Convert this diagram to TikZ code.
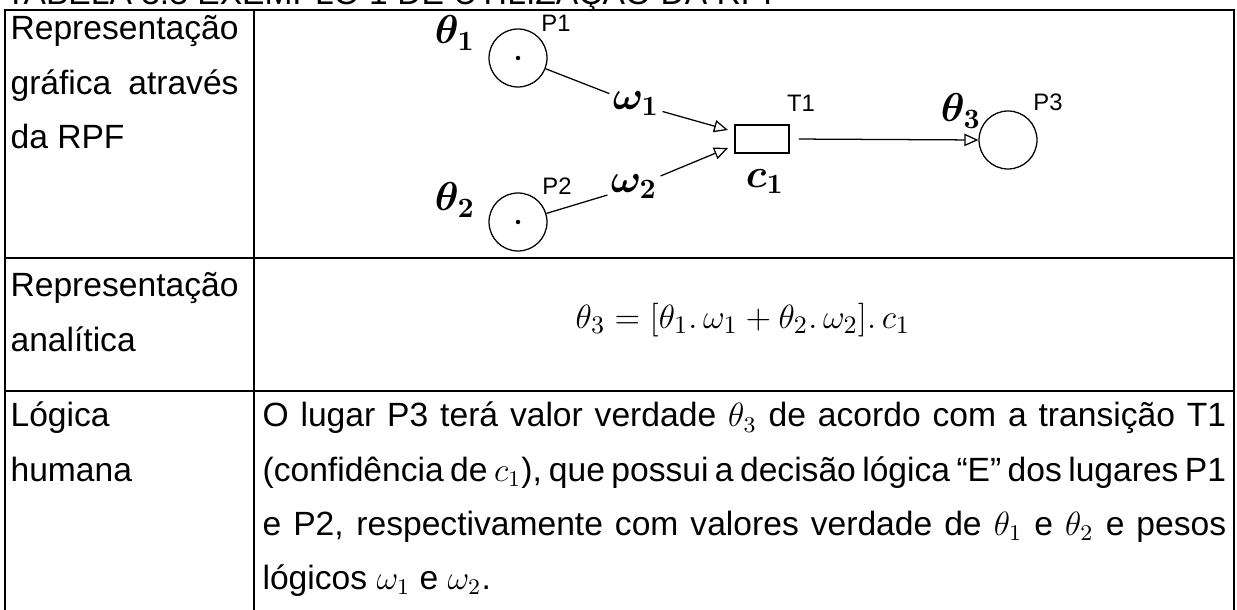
\documentclass[tikz,border=0pt]{standalone}
\usepackage{fontspec}
\setmainfont{Liberation Sans}
\usetikzlibrary{arrows.meta,positioning,calc}
\tikzset{cell/.style={anchor=base west,inner sep=0pt,text width=81.4pt,align=justify,font=\fontsize{12}{19.3}\selectfont},
 wide/.style={cell,text width=344pt},
 place/.style={draw,circle,line width=.45pt,minimum size=20.7pt,inner sep=0pt},
 trans/.style={draw,line width=.6pt,minimum width=19.3pt,minimum height=10pt,inner sep=0pt},
 lab/.style={inner sep=1pt,font=\fontsize{14}{16}\selectfont\boldmath},
 tag/.style={inner sep=0pt,font=\fontsize{8.5}{10}\selectfont},
 arc/.style={line width=.45pt},arr/.style={arc,-{Triangle[open,length=5pt,width=4.4pt]}},
 rule/.style={line width=.75pt}}
\begin{document}
\begin{tikzpicture}[x=0.357pt,y=-0.357pt]
\useasboundingbox (0,0) rectangle (1237,610);
\begin{scope}
\clip (0,0) rectangle (1237,610);
\node[anchor=base west,inner sep=0pt,font=\fontsize{12}{14}\selectfont] (title) at (5,5) {TABELA 3.3 EXEMPLO 1 DE UTILIZAÇÃO DA RPF};
\end{scope}
% table
\draw[rule] (5,610)--(5,10)--(1234,10)--(1234,610);
\draw[rule] (254,10)--(254,610);
\draw[rule] (5,258)--(1234,258);\draw[rule] (5,391)--(1234,391);
\node[cell] (r1) at (10,40) {Representação\linebreak gráfica através\linebreak da RPF};
\node[cell] (r2) at (10,297) {Representação\linebreak analítica};
\node[cell] (r3) at (10,427) {Lógica\\humana};
% RPF
\node[place] (p1) at (518,58) {};\fill (p1) circle (.8pt);
\node[place] (p2) at (518,222) {};\fill (p2) circle (.8pt);
\node[trans] (t1) at (762,139) {};
\node[place] (p3) at (1008,140) {};
\node[lab] (th1) at (455,33) {$\theta_1$};\node[tag] (n1) at (556,23) {P1};
\node[lab] (th2) at (455,200) {$\theta_2$};\node[tag] (n2) at (557,186) {P2};
\node[lab] (th3) at (961,111) {$\theta_3$};\node[tag] (n3) at (1048,102) {P3};
\node[tag] (nt) at (801,103) {T1};\node[lab] (c1) at (765,182) {$c_1$};
\node[lab] (w1) at (636,104) {$\omega_1$};\node[lab] (w2) at (634,187) {$\omega_2$};
\coordinate (in1) at (728,130);\coordinate (in2) at (728,148);
\draw[arc] (p1)--(w1);\draw[arr] (w1)--(in1);
\draw[arc] (p2)--(w2);\draw[arr] (w2)--(in2);
\draw[arr,shorten <=3.2pt] (t1.east)--(p3.west);
% analitica
\node[font=\fontsize{13}{15}\selectfont] (eq) at (743,320) {$\theta_3=[\theta_1.\,\omega_1+\theta_2.\,\omega_2].\,c_1$};
\node[wide] (txt) at (262,427) {O lugar P3 terá valor verdade $\theta_3$ de acordo com a transição T1\linebreak (confidência de $c_1$), que possui a decisão lógica “E” dos lugares P1\linebreak e P2, respectivamente com valores verdade de $\theta_1$ e $\theta_2$ e pesos\linebreak lógicos $\omega_1$ e $\omega_2$.};
\end{tikzpicture}
\end{document}
